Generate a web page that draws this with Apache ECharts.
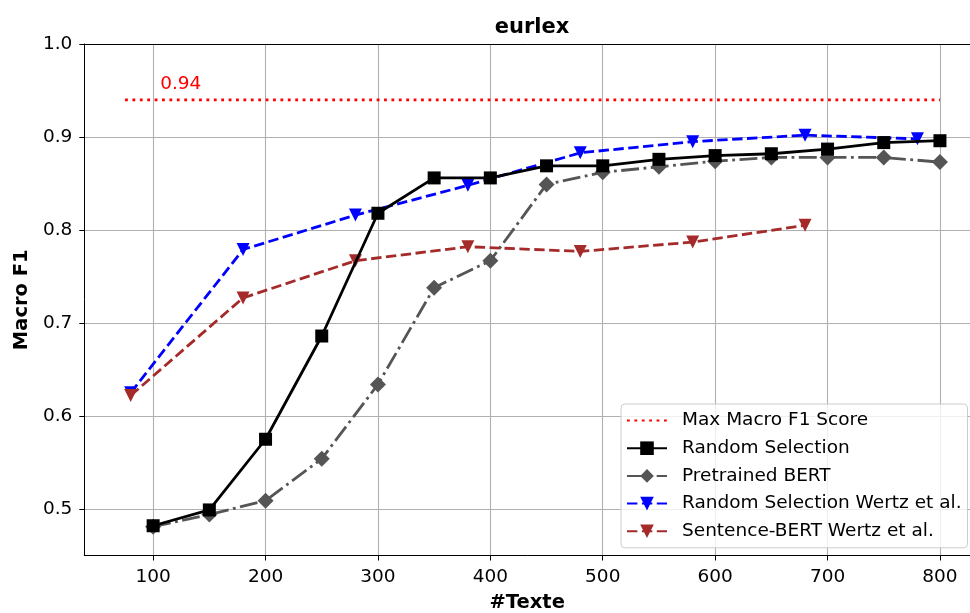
<!DOCTYPE html>
<html>
<head>
<meta charset="utf-8">
<script src="https://cdn.jsdelivr.net/npm/echarts@6/dist/echarts.min.js"></script>
<style>
html,body{margin:0;padding:0;background:#fff;}
#chart{width:970px;height:613px;}
</style>
</head>
<body>
<div id="chart"></div>
<script>
// ---- data ----
const titleText = 'eurlex';
const xName = '#Texte';
const yName = 'Macro F1';
const xTicks = [100, 200, 300, 400, 500, 600, 700, 800];
const yTicks = [0.5, 0.6, 0.7, 0.8, 0.9, 1.0];

const seriesNames = ['Max Macro F1 Score', 'Random Selection', 'Pretrained BERT',
                     'Random Selection Wertz et al.', 'Sentence-BERT Wertz et al.'];

const maxX = [75, 800];
const maxF1 = 0.94;

const ourX = [100, 150, 200, 250, 300, 350, 400, 450, 500, 550, 600, 650, 700, 750, 800];
const randomSelection = [0.482, 0.499, 0.575, 0.686, 0.818, 0.856, 0.856, 0.869, 0.869, 0.876, 0.880, 0.882, 0.887, 0.894, 0.896];
const pretrainedBert  = [0.481, 0.494, 0.509, 0.554, 0.634, 0.738, 0.767, 0.849, 0.862, 0.868, 0.874, 0.878, 0.878, 0.878, 0.873];

const wertzRandomX = [80, 180, 280, 380, 480, 580, 680, 780];
const wertzRandom  = [0.625, 0.779, 0.816, 0.848, 0.883, 0.895, 0.902, 0.898];

const wertzSbertX = [80, 180, 280, 380, 480, 580, 680];
const wertzSbert  = [0.622, 0.727, 0.767, 0.782, 0.777, 0.787, 0.805];

// ---- chart ----
const zip = (xs, ys) => xs.map((x, i) => [x, ys[i]]);
const FONT = 'DejaVu Sans';
const LW = 2.8;
const X_MIN = 38.75;
const X_MAX = 826.74;   // visible part of the axis (the figure is cut at the right)

const chart = echarts.init(document.getElementById('chart'), null, {renderer: 'canvas'});

const option = {
  animation: false,
  backgroundColor: '#fff',
  textStyle: {fontFamily: FONT},
  title: {
    text: titleText,
    left: 527, top: 12, textAlign: 'center',
    textStyle: {fontFamily: FONT, fontSize: 21, fontWeight: 'bold', color: '#000'}
  },
  grid: {
    left: 84.3, top: 44, right: 0, height: 511.5,
    show: false, containLabel: false, outerBoundsMode: 'none'
  },
  legend: {
    orient: 'vertical',
    left: 621, top: 404,
    data: seriesNames,
    selectedMode: false,
    itemWidth: 40, itemHeight: 17, itemGap: 8.7,
    padding: [7, 6, 7, 5],
    backgroundColor: 'rgba(255,255,255,0.8)',
    borderColor: '#cccccc', borderWidth: 1, borderRadius: 4,
    textStyle: {fontFamily: FONT, fontSize: 18.5, color: '#000', lineHeight: 18.5, padding: [0, 0, 0, 10]}
  },
  xAxis: [{
    type: 'value', min: X_MIN, max: X_MAX, position: 'bottom',
    name: xName, nameLocation: 'middle', nameGap: 37,
    nameTextStyle: {fontFamily: FONT, fontSize: 19.5, fontWeight: 'bold', color: '#000'},
    axisLine: {show: true, onZero: false, lineStyle: {color: '#000', width: 1}},
    axisTick: {show: true, inside: false, length: 5, customValues: xTicks, lineStyle: {color: '#000', width: 1}},
    axisLabel: {customValues: xTicks, margin: 12, fontFamily: FONT, fontSize: 18.5, color: '#000'},
    splitLine: {show: true, lineStyle: {color: '#b0b0b0', width: 1.1}}
  }, {
    type: 'value', min: X_MIN, max: X_MAX, position: 'top',
    axisLine: {show: true, onZero: false, lineStyle: {color: '#000', width: 1}},
    axisTick: {show: false}, axisLabel: {show: false}, splitLine: {show: false}
  }],
  yAxis: {
    type: 'value', min: 0.45, max: 1.0,
    name: yName, nameLocation: 'middle', nameGap: 48,
    nameTextStyle: {fontFamily: FONT, fontSize: 19.5, fontWeight: 'bold', color: '#000'},
    axisLine: {show: true, onZero: false, lineStyle: {color: '#000', width: 1}},
    axisTick: {show: true, inside: false, length: 5, customValues: yTicks, lineStyle: {color: '#000', width: 1}},
    axisLabel: {customValues: yTicks, margin: 12, fontFamily: FONT, fontSize: 18.5, color: '#000',
                formatter: v => v.toFixed(1)},
    splitLine: {show: true, lineStyle: {color: '#b0b0b0', width: 1.1}}
  },
  series: [
    {
      name: seriesNames[0], type: 'line',
      data: zip(maxX, [maxF1, maxF1]),
      symbol: 'none', showSymbol: false,
      lineStyle: {color: '#ff0000', width: LW, type: [2.8, 4.6]},
      itemStyle: {color: 'rgba(0,0,0,0)'},
      markPoint: {
        symbol: 'circle', symbolSize: 0, silent: true,
        itemStyle: {color: 'rgba(0,0,0,0)'},
        data: [{coord: [100, maxF1]}],
        label: {show: true, formatter: maxF1.toFixed(2), position: [7, -25],
                fontFamily: FONT, fontSize: 18.5, color: '#ff0000'}
      },
      z: 2
    },
    {
      name: seriesNames[1], type: 'line',
      data: zip(ourX, randomSelection),
      symbol: 'rect', symbolSize: 13, showAllSymbol: true,
      lineStyle: {color: '#000', width: LW, type: 'solid'},
      itemStyle: {color: '#000', borderWidth: 0},
      z: 5
    },
    {
      name: seriesNames[2], type: 'line',
      data: zip(ourX, pretrainedBert),
      symbol: 'diamond', symbolSize: 16, showAllSymbol: true,
      lineStyle: {color: '#555555', width: LW, type: [17.9, 4.5, 2.8, 4.5]},
      itemStyle: {color: '#555555', borderWidth: 0},
      z: 3
    },
    {
      name: seriesNames[3], type: 'line',
      data: zip(wertzRandomX, wertzRandom),
      symbol: 'triangle', symbolRotate: 180, symbolSize: 13, showAllSymbol: true,
      lineStyle: {color: '#0000ff', width: LW, type: [10.4, 4.5]},
      itemStyle: {color: '#0000ff', borderWidth: 0},
      z: 4
    },
    {
      name: seriesNames[4], type: 'line',
      data: zip(wertzSbertX, wertzSbert),
      symbol: 'triangle', symbolRotate: 180, symbolSize: 13, showAllSymbol: true,
      lineStyle: {color: '#a52a2a', width: LW, type: [10.4, 4.5]},
      itemStyle: {color: '#a52a2a', borderWidth: 0},
      z: 4
    }
  ]
};
chart.setOption(option);
</script>
</body>
</html>
